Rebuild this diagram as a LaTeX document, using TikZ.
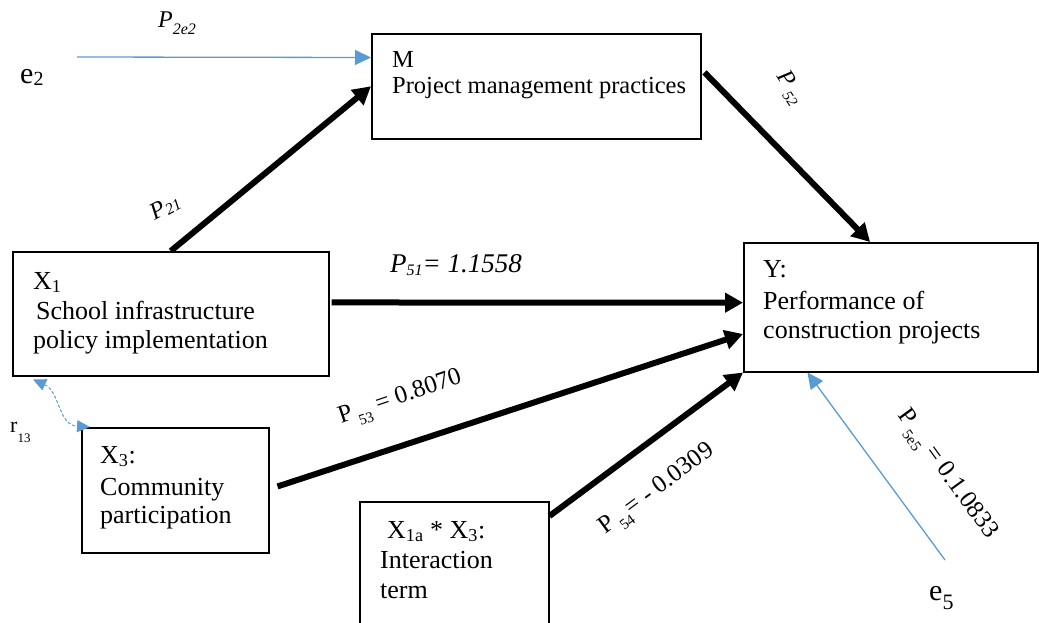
\documentclass[tikz,border=0pt]{standalone}
\usepackage{fontspec}
\setmainfont{Liberation Serif}
\usetikzlibrary{arrows.meta,calc}
\definecolor{lblue}{RGB}{91,155,213}
\newcommand\fs[1]{\fontsize{#1}{#1}\selectfont}
\newcommand\lsub[3]{\raisebox{#1}{\fs{#2}#3}}
\begin{document}
\begin{tikzpicture}[x=1pt,y=-1pt,
 box/.style={draw, line width=1.5pt, inner sep=0pt, anchor=north west},
 txt/.style={inner sep=0pt, anchor=base west, font=\fs{26}},
 lbl/.style={inner sep=0pt, font=\fs{25}},
 bigarrow/.style={line width=6pt, -{Triangle[length=18pt,width=19pt]}},
 bluearrow/.style={draw=lblue, line width=1.3pt, -{Triangle[length=16pt,width=15pt]}},
 corr/.style={draw=lblue, line width=1pt, dash pattern=on 3pt off 2pt,
   {Triangle[length=13pt,width=12pt]}-{Triangle[length=13pt,width=12pt]}},
]
\clip (0,0) rectangle (1039,622);
% boxes
\node[box, minimum width=329pt, minimum height=105pt] (M) at (371,33) {};
\node[box, minimum width=316pt, minimum height=124pt] (X1) at (12,251) {};
\node[box, minimum width=294pt, minimum height=129pt] (Y) at (743,242) {};
\node[box, minimum width=187pt, minimum height=125pt] (X3) at (81,427) {};
\node[box, minimum width=189pt, minimum height=140pt] (Int) at (359,501) {};
% box texts
\node[txt, font=\fs{24.5}] (mt1) at (392,67) {M};
\node[txt, font=\fs{24.5}] (mt2) at (392,93) {Project management practices};
\node[txt] (xt1) at (33,289) {X\textsubscript{1}};
\node[txt] (xt2) at (33,319) {\hspace{3pt}School infrastructure};
\node[txt] (xt3) at (33,348) {policy implementation};
\node[txt] (yt1) at (763,277) {Y:};
\node[txt] (yt2) at (763,309) {Performance of};
\node[txt] (yt3) at (763,338) {construction projects};
\node[txt] (ct1) at (100,463) {X\textsubscript{3}:};
\node[txt] (ct2) at (100,495) {Community};
\node[txt] (ct3) at (100,523) {participation};
\node[txt] (it1) at (387,538) {X\textsubscript{1a} * X\textsubscript{3}:};
\node[txt] (it2) at (380,568) {Interaction};
\node[txt] (it3) at (380,598) {term};
% error terms
\node[inner sep=0pt, anchor=base west] (e2) at (20,83) {\fs{30}e\lsub{-2pt}{20}{2}};
\node[inner sep=0pt, anchor=base west] (e5) at (929,600) {\fs{30}e\lsub{-9pt}{22}{5}};
\coordinate (e2t) at (77,57);
\coordinate (e5t) at (945,560);
% connectors
\draw[bluearrow] (e2t) -- ($(M.north west)!0.23!(M.south west)$);
\draw[bigarrow] (X1.north) -- (M.west);
\draw[bigarrow] ($(M.north east)!0.37!(M.south east)+(3,0)$) -- ($(Y.north west)!0.43!(Y.north east)$);
\draw[bigarrow] ($(X1.north east)!0.41!(X1.south east)+(2,0)$) -- ($(Y.north west)!0.465!(Y.south west)$);
\draw[bigarrow] ($(X3.north east)!0.47!(X3.south east)+(8,0)$) -- ($(Y.north west)!0.705!(Y.south west)$);
\draw[bigarrow] ($(Int.north east)+(0,15)$) -- (Y.south west);
\draw[bluearrow] (e5t) -- ($(Y.south west)!0.218!(Y.south east)$);
\draw[corr] ($(X1.south west)+(21,3)$) .. controls ($(X1.south west)+(48,15)$) and ($(X3.north west)+(-23,-2)$) .. ($(X3.north west)+(9,0)$);
% labels
\node[lbl, anchor=base west, font=\fs{24}] (l2e2) at (158,27) {\textit{P\lsub{-7pt}{16}{2e2}}};
\node[lbl, font=\fs{24}, rotate=28] (l21) at (165,207) {\textit{P\lsub{-2pt}{16}{21}}};
\node[lbl, font=\fs{24}, rotate=-57] (l52) at (790,88) {\textit{P\,\lsub{-6pt}{15}{52}}};
\node[lbl, anchor=base west, font=\fs{27}] (l51) at (390,272) {\textit{P\lsub{-3pt}{16}{51}= 1.1558}};
\node[lbl, anchor=base west, rotate=18.7] (l53) at (341,424) {P\,\lsub{-8pt}{15}{53} = 0.8070};
\node[lbl, anchor=base west, rotate=36.5] (l54) at (605,535) {P\,\lsub{-8pt}{15}{54}= - 0.0309};
\node[lbl, rotate=-54] (l5e5) at (946,475) {P\,\lsub{-8pt}{15}{5e5} = 0.1.0833};
\node[inner sep=0pt, anchor=base west] (r13) at (10,432) {\fs{22}r\lsub{-10pt}{13}{13}};
\end{tikzpicture}
\end{document}
